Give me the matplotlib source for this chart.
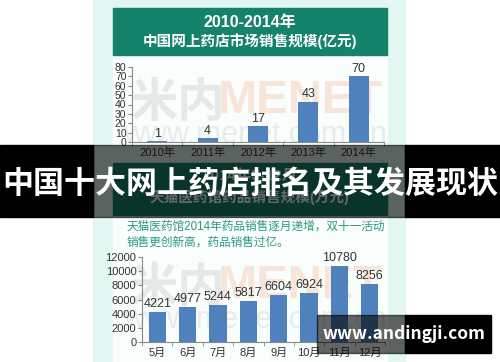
import matplotlib.pyplot as plt
from matplotlib.patches import Rectangle

plt.rcParams['font.family'] = ['Liberation Sans', 'Noto Sans CJK SC', 'DejaVu Sans']

# data
years = ["2010年", "2011年", "2012年", "2013年", "2014年"]
market = [1, 4, 17, 43, 70]
months = ["5月", "6月", "7月", "8月", "9月", "10月", "11月", "12月"]
tmall = [4221, 4977, 5244, 5817, 6604, 6924, 10780, 8256]

W, H = 500, 362
mint = "#e2f7f1"
card = "#f9fdfc"
green = "#15826b"
blue = "#4f81bd"

fig = plt.figure(figsize=(5, 3.62), dpi=100)
bg = fig.add_axes([0, 0, 1, 1])
bg.set_xlim(0, W); bg.set_ylim(H, 0); bg.axis("off")
bg.add_patch(Rectangle((93, 0), 312, H, color=mint))
bg.add_patch(Rectangle((113, 56), 274, 90, color=card))
bg.add_patch(Rectangle((113, 215), 274, 147, color=card))
bg.add_patch(Rectangle((113, 8), 274, 47, color=green))
bg.add_patch(Rectangle((113, 163), 274, 52, color=green))
bg.text(250, 22, "2010-2014年", color="white", fontsize=11.5, fontweight="bold", ha="center", va="center")
bg.text(250, 41, "中国网上药店市场销售规模(亿元)", color="white", fontsize=10.5, fontweight="bold", ha="center", va="center")
bg.text(250, 176, "2014年5-12月", color="white", fontsize=11, fontweight="bold", ha="center", va="center")
bg.text(250, 197, "天猫医药馆药品销售规模(万元)", color="white", fontsize=10.5, fontweight="bold", ha="center", va="center")
bg.text(127, 227, "天猫医药馆2014年药品销售逐月递增，双十一活动", color="#2c9a82", fontsize=8.4, ha="left", va="center")
bg.text(127, 243, "销售更创新高，药品销售过亿。", color="#2c9a82", fontsize=8.4, ha="left", va="center")

# faint watermarks
for y0 in (105, 290):
    bg.text(178, y0, "米内", color="#bfc4c4", alpha=0.35, fontsize=34, fontweight="bold", ha="center", va="center")
    bg.text(300, y0 - 4, "MENET", color="#f0a070", alpha=0.25, fontsize=34, fontweight="bold", ha="center", va="center")
    bg.text(255, y0 + 30, "www.menet.com.cn", color="#c8cccc", alpha=0.35, fontsize=22, ha="center", va="center")


def make_axes(left, right, top, bottom):
    return fig.add_axes([left / W, 1 - bottom / H, (right - left) / W, (bottom - top) / H])


def style(ax, n):
    ax.set_facecolor("none")
    for s in ("top", "right"):
        ax.spines[s].set_visible(False)
    for s in ("left", "bottom"):
        ax.spines[s].set_color("#8a8a8a")
        ax.spines[s].set_linewidth(0.8)
    ax.set_xlim(-0.5, n - 0.5)
    ax.set_xticks(range(n))
    ax.set_xticks([i + 0.5 for i in range(-1, n)], minor=True)
    ax.tick_params(axis="x", which="major", length=0, pad=4, labelsize=8, labelcolor="#333333")
    ax.tick_params(axis="x", which="minor", length=3, color="#8a8a8a")
    ax.tick_params(axis="y", length=3, color="#8a8a8a", pad=1, labelcolor="#333333")


ax1 = make_axes(132, 384, 67, 142)
style(ax1, len(years))
ax1.bar(range(len(years)), market, width=0.4, color=blue, zorder=2)
ax1.set_ylim(0, 80)
ax1.set_yticks(range(0, 81, 10))
ax1.tick_params(axis="y", labelsize=7.5)
ax1.set_xticklabels(years)
for i, v in enumerate(market):
    ax1.text(i, v + 1.5, str(v), ha="center", va="bottom", fontsize=9, color="#333333")

ax2 = make_axes(142, 385, 257, 342)
style(ax2, len(months))
ax2.bar(range(len(months)), tmall, width=0.57, color=blue, zorder=2)
ax2.set_ylim(0, 12000)
ax2.set_yticks(range(0, 12001, 2000))
ax2.tick_params(axis="y", labelsize=8)
ax2.set_xticklabels(months)
for i, v in enumerate(tmall):
    ax2.text(i, v + 250, str(v), ha="center", va="bottom", fontsize=9, color="#333333")

# overlay band and site label
ov = fig.add_axes([0, 0, 1, 1], zorder=10)
ov.set_xlim(0, W); ov.set_ylim(H, 0); ov.axis("off"); ov.set_facecolor("none")
ov.add_patch(Rectangle((0, 145), 93, 72, color="black"))
ov.add_patch(Rectangle((405, 145), 95, 72, color="black"))
ov.add_patch(Rectangle((93, 145), 312, 72, color="black", alpha=0.6))
ov.text(250, 184, "中国十大网上药店排名及其发展现状", color="white", fontsize=22.3, fontweight="bold",
        ha="center", va="center", family=["Noto Sans CJK SC", "DejaVu Sans"])
ov.add_patch(Rectangle((317, 315), 88, 38, color="black", alpha=0.6))
ov.add_patch(Rectangle((405, 315), 86, 38, color="black"))
ov.text(404, 334, "www.andingji.com", color="white", fontsize=12.5, fontweight="bold",
        ha="center", va="center", family=["Noto Sans CJK SC", "DejaVu Sans"])

fig.savefig("out.png", dpi=100)
